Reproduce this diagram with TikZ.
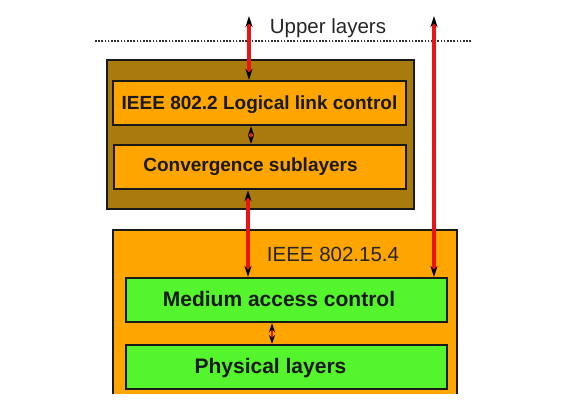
\documentclass[tikz,border=0pt]{standalone}
\usepackage{fontspec}
\setmainfont{Liberation Sans}
\usetikzlibrary{arrows.meta}
\definecolor{brownbox}{RGB}{168,123,12}
\definecolor{orangebox}{RGB}{255,165,0}
\definecolor{greenbox}{RGB}{85,245,45}
\definecolor{redline}{RGB}{235,20,20}
\begin{document}
\begin{tikzpicture}[x=1pt,y=-1pt,
  layerbox/.style={draw=black!90, line width=2.2pt, inner sep=0pt},
  boxtext/.style={font=\bfseries\fontsize{19}{22}\selectfont, text=black!90, anchor=base},
  bigtext/.style={font=\bfseries\fontsize{21}{24}\selectfont, text=black!90, anchor=base},
  plaintext/.style={font=\fontsize{20.5}{24}\selectfont, text=black!85, anchor=base},
  bidir/.style={draw=redline, line width=3.8pt, {Stealth[color=black,length=11pt,width=7pt]}-{Stealth[color=black,length=11pt,width=7pt]}},
  smallbidir/.style={draw=redline, line width=2pt, {Stealth[color=black,length=9pt,width=6pt]}-{Stealth[color=black,length=9pt,width=6pt]}}
]
\useasboundingbox (0,0) rectangle (579,408);
% dotted separator
\coordinate (dotL) at (95,41);
\coordinate (dotR) at (472,41);
\draw[black!80, line width=1.6pt, dash pattern=on 1.6pt off 1.6pt] (dotL) -- (dotR);
\node[plaintext] (upper) at (328,33) {Upper layers};

% top block
\node[layerbox, fill=brownbox, minimum width=307pt, minimum height=149pt, anchor=north west] (topouter) at (106,59) {};
\node[layerbox, fill=orangebox, minimum width=293pt, minimum height=44pt, anchor=north west] (llc) at (112,80) {};
\node[boxtext] (llctext) at (259.5,109) {IEEE 802.2 Logical link control};
\node[layerbox, fill=orangebox, minimum width=292pt, minimum height=44pt, anchor=north west] (conv) at (113,144) {};
\node[boxtext] (convtext) at (250.5,171.5) {Convergence sublayers};

% bottom block
\fill[orangebox] (113,230) rectangle (457,394);
\draw[black!90, line width=2.2pt] (113,394) -- (113,230) -- (457,230) -- (457,394);
\node[plaintext] (ieee) at (333,261.5) {IEEE 802.15.4};
\node[layerbox, fill=greenbox, minimum width=321pt, minimum height=44pt, anchor=north west] (mac) at (125,277) {};
\node[bigtext] (mactext) at (279,306.5) {Medium access control};
\node[layerbox, fill=greenbox, minimum width=321pt, minimum height=44pt, anchor=north west] (phy) at (125,344) {};
\node[bigtext] (phytext) at (270.5,373) {Physical layers};

% arrows
\coordinate (a1top) at (249,16);
\coordinate (a2top) at (434,16);
\draw[bidir] (a1top) -- (llc.north -| a1top);
\draw[bidir] (a2top) -- (mac.north -| a2top);
\draw[smallbidir] (llc.south -| 251,0) -- (conv.north -| 251,0);
\draw[bidir] (conv.south -| 248,0) -- (mac.north -| 248,0);
\draw[smallbidir] (mac.south -| 272,0) -- (phy.north -| 272,0);
\end{tikzpicture}
\end{document}
